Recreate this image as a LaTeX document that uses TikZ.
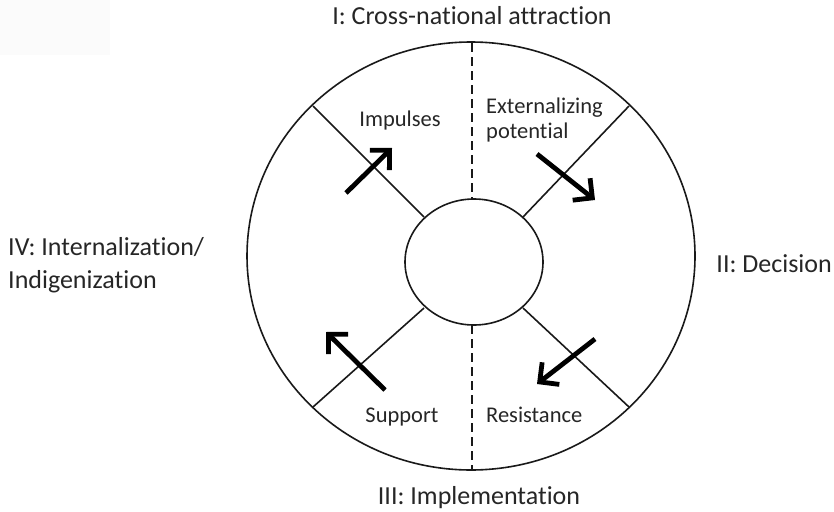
\documentclass[tikz,border=0pt]{standalone}
\usepackage{fontspec}
\setmainfont{Carlito}[Ligatures=NoCommon]
\usetikzlibrary{arrows.meta}
\begin{document}
\begin{tikzpicture}[x=1pt,y=-1pt,
  ring/.style={line width=1.6pt,draw=black!90},
  divider/.style={line width=1.6pt,draw=black!90},
  sepdash/.style={line width=1.8pt,draw=black!90,dash pattern=on 9pt off 5pt},
  flow/.style={line width=4.8pt,-{Straight Barb[length=14pt,width=28pt]}},
  phase/.style={font=\fontsize{26}{33}\selectfont,text=black!85,inner sep=0pt},
  force/.style={font=\fontsize{22.5}{25}\selectfont,text=black!85,inner sep=0pt}]
\useasboundingbox (0,0) rectangle (834,511);
\fill[black!1.5] (0,0) rectangle (110,55);
% circles
\draw[ring] (471,256) ellipse [x radius=224, y radius=214];
\draw[ring] (474,262) ellipse [x radius=69, y radius=63];
% endpoints
\coordinate (oT) at (472,43);
\coordinate (iT) at (472,199);
\coordinate (iB) at (472,325);
\coordinate (oB) at (472,470);
\coordinate (oUL) at (313,106);
\coordinate (iUL) at (424,217);
\coordinate (oUR) at (629,106);
\coordinate (iUR) at (523,217);
\coordinate (oLL) at (313,407);
\coordinate (iLL) at (424,308);
\coordinate (oLR) at (629,407);
\coordinate (iLR) at (523,308);
\draw[sepdash] (oT) -- (iT);
\draw[sepdash] (iB) -- (oB);
\draw[divider] (oUL) -- (iUL);
\draw[divider] (oUR) -- (iUR);
\draw[divider] (oLL) -- (iLL);
\draw[divider] (oLR) -- (iLR);
% arrows
\coordinate (a1s) at (346,193); \coordinate (a1e) at (392,148);
\coordinate (a2s) at (537,154); \coordinate (a2e) at (595,200);
\coordinate (a3s) at (595,339); \coordinate (a3e) at (537,384);
\coordinate (a4s) at (385,390); \coordinate (a4e) at (326,332);
\draw[flow] (a1s) -- (a1e);
\draw[flow] (a2s) -- (a2e);
\draw[flow] (a3s) -- (a3e);
\draw[flow] (a4s) -- (a4e);
% inner labels
\node[force,anchor=base] (imp) at (400,126) {Impulses};
\node[force,anchor=base west,align=left] (ext) at (486,138) {Externalizing\\potential};
\node[force,anchor=base] (sup) at (402,422) {Support};
\node[force,anchor=base west] (res) at (486,422) {Resistance};
% outer labels
\node[phase,anchor=base] (p1) at (472,25) {I: Cross-national attraction};
\node[phase,anchor=base east] (p2) at (832,272) {II: Decision};
\node[phase,anchor=base] (p3) at (479,504) {III: Implementation};
\node[phase,anchor=base west,align=left] (p4) at (8,288) {IV: Internalization/\\Indigenization};
\end{tikzpicture}
\end{document}
